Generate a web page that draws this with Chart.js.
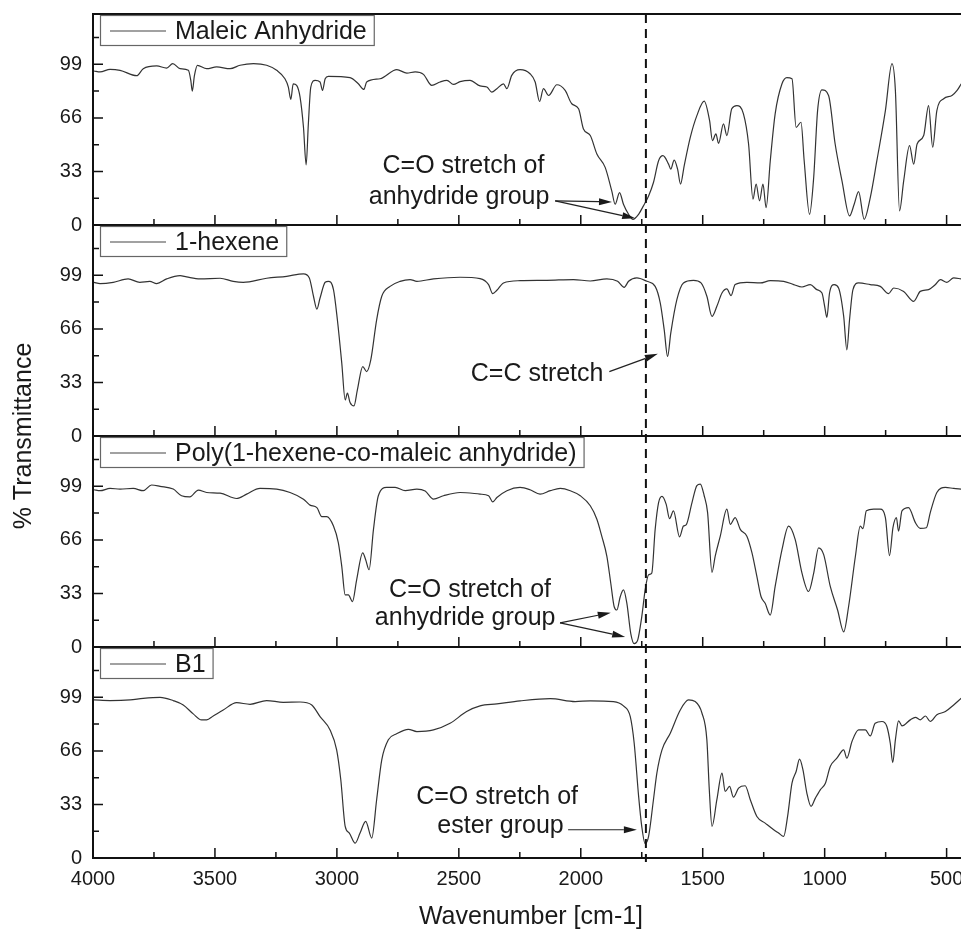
<!DOCTYPE html>
<html>
<head>
<meta charset="utf-8">
<script src="https://cdn.jsdelivr.net/npm/chart.js@4.4.1/dist/chart.umd.min.js"></script>
<style>
  body { margin: 0; background: #fff; }
  #wrap { width: 961px; height: 929px; }
</style>
</head>
<body>
<div id="wrap"><canvas id="myChart" width="961" height="929"></canvas></div>
<script>
const font = '"Liberation Sans", Arial, Helvetica, sans-serif';
const ink = '#1a1a1a';

// axes
const xTicks = [4000, 3500, 3000, 2500, 2000, 1500, 1000, 500];
const xMinorTicks = [3750, 3250, 2750, 2250, 1750, 1250, 750];
const yTicks = [0, 33, 66, 99];
const yMinorTicks = [16.5, 49.5, 82.5, 115.5];
const refLine = 1733; // dashed marker

const labels = ['Maleic Anhydride', '1-hexene', 'Poly(1-hexene-co-maleic anhydride)', 'B1'];
const axisIds = ['yMA', 'yHex', 'yPoly', 'yB1'];

// spectra (wavenumber, % transmittance)
const maWave = [3996,3971,3930,3889,3821,3794,3739,3698,3673,3643,3609,3599,3593,3584,3572,3534,3493,3438,3397,3342,3288,3247,3213,3199,3189,3179,3165,3151,3137,3126,3117,3107,3089,3069,3059,3048,3035,2946,2912,2889,2878,2823,2754,2713,2679,2645,2611,2577,2549,2522,2495,2454,2413,
  2385,2365,2344,2317,2303,2283,2249,2208,2187,2169,2153,2132,2098,2064,2037,2009,1989,1961,1934,1900,1873,1859,1841,1825,1804,1786,1763,1743,1722,1702,1681,1663,1640,1631,1617,1603,1591,1576,1551,1524,1494,1472,1460,1446,1435,1415,1401,1381,1360,1333,1312,1294,1281,1267,1253,1240,1223,1203,1175,1155,1134,1117,1097,1084,1062,1045,1029,1011,984,957,929,898,879,861,838,813,786,751,724,710,693,676,652,635,621,594,574,557,540,512,478,457,440];
const maT = [94.9,94.3,95.9,95.3,92.0,96.3,98.0,96.7,99.4,96.3,95.3,89.1,82.5,92.2,98.4,96.3,97.4,96.3,98.4,99.4,98.4,95.3,90.1,85.0,77.4,87.0,86.0,78.8,60.2,37.1,62.3,85.0,89.1,88.1,82.9,90.1,91.6,90.8,87.0,83.5,88.1,90.1,95.7,93.6,94.3,92.8,86.0,88.1,89.1,86.6,88.3,89.1,85.7,
  85.0,81.9,84.0,87.0,84.0,92.2,95.7,93.2,88.1,76.1,84.0,79.8,86.4,82.9,74.7,71.6,59.2,55.1,43.7,35.5,21.0,12.8,20.0,12.8,6.6,3.5,6.6,11.8,17.9,26.2,39.6,42.7,37.5,34.4,40.0,34.4,25.2,36.5,54.0,67.4,76.3,64.4,52.0,56.1,50.3,62.3,55.1,71.6,73.6,68.5,49.9,15.9,25.2,14.9,25.2,10.7,39.6,68.5,87.0,90.8,90.1,60.2,63.3,39.6,6.6,29.3,70.5,83.3,79.8,49.9,27.2,5.6,12.8,20.6,3.5,16.9,39.6,70.5,99.4,82.9,8.7,27.2,48.9,37.5,49.9,55.1,73.6,47.9,70.5,77.8,79.8,82.9,87.0];

const hexWave = [3996,3971,3917,3856,3808,3767,3739,3698,3643,3616,3561,3479,3425,3384,3288,3206,3137,3113,3096,3082,3069,3048,3035,3014,2998,2980,2966,2957,2946,2930,2916,2894,2878,2861,2837,2816,2782,2741,2700,2672,2604,2495,2413,
  2378,2361,2344,2317,2249,2139,2030,1961,1893,1849,1822,1804,1770,1729,1695,1674,1658,1644,1631,1606,1579,1538,1507,1483,1462,1442,1421,1401,1384,1367,1319,1264,1223,1168,1127,1093,1059,1032,1011,1000,991,980,961,943,922,909,898,884,861,813,772,738,717,676,635,608,574,546,526,499,471,440];
const hexT = [94.7,93.9,94.7,96.8,94.7,95.3,93.9,96.8,98.8,98.0,96.8,97.2,95.3,94.7,97.2,98.4,99.9,97.4,86.1,78.2,85.0,94.7,95.3,90.2,71.6,44.9,22.2,26.4,20.6,18.5,28.4,42.8,39.7,46.9,71.6,86.1,92.2,95.3,96.4,95.3,96.8,97.8,97.0,
  93.3,87.7,89.8,94.3,95.7,95.9,96.4,95.5,96.8,95.3,91.6,95.3,97.4,95.3,92.2,81.9,65.5,49.0,63.4,84.0,94.3,95.9,94.3,86.1,73.7,79.9,88.1,90.6,86.5,93.3,94.7,94.3,95.7,95.3,93.3,91.8,93.3,90.2,88.1,79.9,73.1,88.1,93.3,91.2,73.7,53.1,71.6,90.2,94.3,93.3,92.2,87.7,91.2,89.1,83.0,89.1,90.2,93.3,96.4,94.7,97.4,96.8];

const polyWave = [3996,3971,3930,3889,3835,3794,3760,3725,3671,3637,3603,3568,3534,3479,3411,3370,3315,3247,3192,3137,3110,3082,3062,3042,3014,2994,2980,2966,2953,2936,2919,2894,2882,2868,2850,2830,2796,2761,2720,2672,2638,2604,2563,2495,2413,
  2378,2361,2344,2303,2249,2208,2167,2125,2084,2043,2002,1961,1934,1914,1893,1877,1863,1852,1838,1825,1811,1795,1781,1767,1750,1736,1722,1709,1695,1681,1667,1650,1636,1620,1595,1579,1568,1544,1524,1510,1494,1480,1462,1449,1428,1401,1387,1367,1346,1319,1298,1278,1261,1244,1223,1203,1175,1148,1121,1093,1066,1045,1025,1004,977,947,922,902,874,854,843,829,799,772,751,734,720,706,697,683,656,628,608,583,567,540,505,471,440];
const polyT = [96.9,96.3,97.7,97.3,97.7,96.3,99.8,99.0,97.3,93.2,92.5,96.7,95.2,94.8,91.5,94.2,97.7,97.3,95.2,91.1,87.4,85.9,80.3,80.3,74.5,64.2,49.7,32.1,32.1,28.0,41.4,58.0,53.8,47.6,72.5,93.2,98.3,98.3,96.3,97.3,96.1,91.1,93.2,95.2,94.2,
  93.2,89.4,92.1,96.3,98.3,96.9,94.2,96.3,97.7,96.3,93.2,87.0,78.7,68.3,55.9,39.3,24.8,22.8,31.1,35.2,26.9,8.3,2.1,4.1,18.6,35.2,44.5,45.5,72.5,89.0,92.8,88.0,79.1,83.9,67.9,74.5,75.2,89.0,99.4,100.4,93.2,82.8,46.0,55.9,68.3,84.9,75.6,79.7,72.5,68.3,58.0,43.5,31.1,26.9,19.7,37.3,60.0,74.5,66.3,45.5,34.2,45.5,61.1,56.9,37.3,22.8,9.3,24.8,55.9,74.5,72.9,83.9,84.9,84.9,79.7,56.3,73.5,79.7,71.4,83.9,85.9,76.6,73.1,73.5,82.8,95.2,98.3,97.7,97.3];

const b1Wave = [3996,3930,3848,3794,3725,3671,3630,3589,3555,3534,3507,3466,3411,3356,3288,3220,3151,3103,3069,3028,3001,2984,2966,2949,2925,2905,2882,2857,2837,2816,2789,2755,2707,2672,2604,2536,2468,2413,
  2344,2249,2125,2023,1961,1866,1825,1797,1781,1763,1750,1736,1722,1702,1688,1667,1633,1592,1558,1531,1503,1483,1473,1462,1442,1421,1408,1390,1374,1353,1326,1305,1278,1244,1209,1189,1168,1152,1134,1117,1103,1089,1073,1056,1038,1018,997,977,950,922,909,888,861,833,813,793,765,745,731,721,710,697,683,649,628,608,587,567,540,505,471,440];
const b1T = [97.4,97.0,97.4,98.4,99.0,97.0,94.3,88.8,85.1,85.1,87.5,91.2,95.7,94.7,97.0,95.9,96.1,94.3,87.1,78.9,66.6,48.2,19.5,15.4,9.2,15.4,22.6,12.3,35.9,60.5,72.8,76.5,79.3,77.9,78.9,83.0,90.2,93.7,
  94.9,96.8,98.2,96.4,96.8,96.4,93.7,87.1,70.7,38.3,19.5,8.8,13.3,35.9,52.3,66.6,76.9,91.2,97.4,96.4,89.2,72.8,42.0,19.5,35.9,52.3,41.0,44.1,37.5,43.1,44.5,35.9,25.6,21.5,17.4,15.4,13.3,25.6,46.1,53.3,60.9,54.3,40.0,31.8,36.9,42.0,46.1,56.4,61.5,66.6,61.5,71.8,78.9,78.9,75.2,83.0,84.1,81.0,70.7,58.8,72.8,84.5,81.4,85.1,86.7,85.1,87.5,84.1,88.2,90.2,94.3,98.4];

// annotations: text at (wavenumber, value), arrows from -> to, per panel
const notes = [
  { axis: 'yMA', text: [['C=O stretch of', 2481, 36.5], ['anhydride group', 2499, 17.0]],
    arrows: [[2105, 14.9, 1872, 14.2], [2105, 14.9, 1777, 4.1]] },
  { axis: 'yHex', text: [['C=C stretch', 2179, 38.0]],
    arrows: [[1883, 39.7, 1684, 50.6]] },
  { axis: 'yPoly', text: [['C=O stretch of', 2454, 35.2], ['anhydride group', 2474, 17.8]],
    arrows: [[2085, 14.9, 1877, 21.1], [2085, 14.9, 1818, 6.2]] },
  { axis: 'yB1', text: [['C=O stretch of', 2343, 37.4], ['ester group', 2329, 19.9]],
    arrows: [[2052, 17.4, 1770, 17.4]] }
];

const series = [[maWave, maT], [hexWave, hexT], [polyWave, polyT], [b1Wave, b1T]];

function arrow(ctx, x1, y1, x2, y2) {
  const a = Math.atan2(y2 - y1, x2 - x1), L = 13, W = 3.5;
  const bx = x2 - L * Math.cos(a), by = y2 - L * Math.sin(a);
  ctx.beginPath();
  ctx.moveTo(x1, y1);
  ctx.lineTo(bx, by);
  ctx.stroke();
  ctx.beginPath();
  ctx.moveTo(x2, y2);
  ctx.lineTo(bx + W * Math.sin(a), by - W * Math.cos(a));
  ctx.lineTo(bx - W * Math.sin(a), by + W * Math.cos(a));
  ctx.closePath();
  ctx.fill();
}

const decor = {
  id: 'decor',
  afterDatasetsDraw(chart) {
    const ctx = chart.ctx, area = chart.chartArea, xs = chart.scales.x;
    ctx.save();

    // dashed marker
    const xr = xs.getPixelForValue(refLine);
    ctx.strokeStyle = '#111';
    ctx.lineWidth = 2;
    ctx.setLineDash([9, 6]);
    ctx.beginPath();
    ctx.moveTo(xr, area.top);
    ctx.lineTo(xr, area.bottom + 4);
    ctx.stroke();
    ctx.setLineDash([]);

    // frame lines
    ctx.strokeStyle = '#111';
    ctx.lineWidth = 2;
    ctx.beginPath();
    ctx.moveTo(area.left, area.top);
    ctx.lineTo(area.right, area.top);
    ctx.moveTo(area.left, area.top - 1);
    ctx.lineTo(area.left, area.bottom + 1);
    ctx.stroke();

    axisIds.forEach(id => {
      const s = chart.scales[id];
      ctx.lineWidth = 2;
      ctx.beginPath();
      ctx.moveTo(area.left, s.bottom);
      ctx.lineTo(area.right, s.bottom);
      ctx.stroke();
      ctx.lineWidth = 1.5;
      ctx.beginPath();
      xTicks.forEach(v => { const p = xs.getPixelForValue(v); ctx.moveTo(p, s.bottom); ctx.lineTo(p, s.bottom - 10); });
      xMinorTicks.forEach(v => { const p = xs.getPixelForValue(v); ctx.moveTo(p, s.bottom); ctx.lineTo(p, s.bottom - 6); });
      yTicks.forEach(v => { const p = s.getPixelForValue(v); ctx.moveTo(area.left, p); ctx.lineTo(area.left + 10, p); });
      yMinorTicks.forEach(v => { const p = s.getPixelForValue(v); ctx.moveTo(area.left, p); ctx.lineTo(area.left + 6, p); });
      ctx.stroke();
    });

    // legend box per panel
    ctx.font = '25px ' + font;
    ctx.textBaseline = 'middle';
    chart.data.datasets.forEach(ds => {
      const s = chart.scales[ds.yAxisID];
      const bx = area.left + 7, by = s.top + 1, bh = 30;
      const tw = ctx.measureText(ds.label).width;
      ctx.strokeStyle = '#666';
      ctx.lineWidth = 1.2;
      ctx.strokeRect(bx + 0.5, by + 0.5, 75 + tw + 7, bh);
      ctx.strokeStyle = '#444';
      ctx.beginPath();
      ctx.moveTo(bx + 10, by + bh / 2 + 1);
      ctx.lineTo(bx + 66, by + bh / 2 + 1);
      ctx.stroke();
      ctx.fillStyle = ink;
      ctx.textAlign = 'left';
      ctx.fillText(ds.label, bx + 75, by + bh / 2 + 2);
    });

    // annotations
    notes.forEach(n => {
      const s = chart.scales[n.axis];
      ctx.fillStyle = ink;
      ctx.textAlign = 'center';
      n.text.forEach(([t, w, v]) => ctx.fillText(t, xs.getPixelForValue(w), s.getPixelForValue(v)));
      ctx.strokeStyle = '#222';
      ctx.lineWidth = 1.2;
      n.arrows.forEach(([w1, v1, w2, v2]) =>
        arrow(ctx, xs.getPixelForValue(w1), s.getPixelForValue(v1), xs.getPixelForValue(w2), s.getPixelForValue(v2)));
    });

    // axis titles
    ctx.font = '25px ' + font;
    ctx.textAlign = 'center';
    ctx.fillText('Wavenumber [cm-1]', 531, 917);
    ctx.save();
    ctx.translate(24, (area.top + area.bottom) / 2);
    ctx.rotate(-Math.PI / 2);
    ctx.fillText('% Transmittance', 0, 0);
    ctx.restore();

    ctx.restore();
  }
};

function panelAxis(weight) {
  return {
    type: 'linear',
    position: 'left',
    stack: 'panels',
    stackWeight: 1,
    weight: weight,
    min: 0,
    max: 130,
    grid: { display: false, drawTicks: false },
    border: { display: false },
    ticks: { padding: 11, color: ink, font: { family: font, size: 20 } },
    afterBuildTicks: s => { s.ticks = yTicks.map(v => ({ value: v })); },
    afterFit: s => { s.width = 93; s.paddingTop = 0; s.paddingBottom = 0; }
  };
}

const scales = {
  x: {
    type: 'linear',
    reverse: true,
    min: 441,
    max: 4000,
    grid: { display: false, drawTicks: false },
    border: { display: false },
    ticks: { padding: 9, maxRotation: 0, color: ink, font: { family: font, size: 20 }, callback: v => String(v) },
    afterBuildTicks: s => { s.ticks = xTicks.map(v => ({ value: v })); },
    afterFit: s => { s.height = 71; s.paddingLeft = 0; s.paddingRight = 0; }
  }
};
// top panel gets highest weight
axisIds.forEach((id, i) => { scales[id] = panelAxis(axisIds.length - i); });

const ctx = document.getElementById('myChart').getContext('2d');
const myChart = new Chart(ctx, {
  type: 'line',
  data: {
    datasets: series.map(([w, t], i) => ({
      label: labels[i],
      data: w.map((x, k) => ({ x: x, y: t[k] })),
      yAxisID: axisIds[i],
      borderColor: '#333',
      borderWidth: 1.2,
      pointRadius: 0,
      cubicInterpolationMode: 'monotone',
      fill: false
    }))
  },
  options: {
    responsive: false,
    animation: false,
    devicePixelRatio: 1,
    layout: { padding: { top: 14, right: 0, bottom: 0, left: 0 } },
    plugins: { legend: { display: false }, tooltip: { enabled: false } },
    scales: scales
  },
  plugins: [decor]
});
</script>
</body>
</html>
